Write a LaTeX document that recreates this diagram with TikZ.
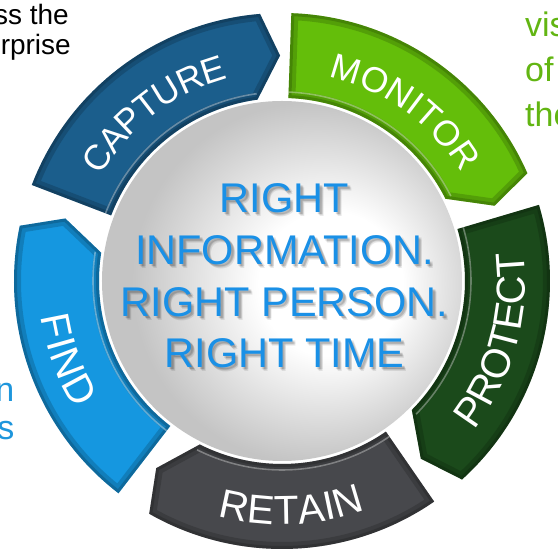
\documentclass[tikz,border=0pt]{standalone}
\usepackage{fontspec}
\setmainfont{Liberation Sans}
\pgfdeclareradialshading{discshade}{\pgfpoint{8.5bp}{-0.5bp}}{color(0bp)=(white); color(10bp)=(white); color(25bp)=(black!23); color(50bp)=(black!23)}
\definecolor{capC}{HTML}{1B5E8C}
\definecolor{monC}{HTML}{64BE0A}
\definecolor{proC}{HTML}{1B4A1B}
\definecolor{retC}{HTML}{47484C}
\definecolor{finC}{HTML}{1597E0}
\definecolor{ctrC}{HTML}{1A90E6}
\definecolor{grnT}{HTML}{62B512}
\definecolor{bluT}{HTML}{1E96DC}
\newcommand{\ringseg}[2]{%
  \pgfmathsetmacro{\segO}{#1-64.3}%
  \pgfmathsetmacro{\segI}{#1-61.3}%
  \pgfmathsetmacro{\segP}{#1-68.5}%
  \def\segshape{(#1:268) arc[start angle=#1, end angle=\segO, radius=268] -- (\segP:225.5) -- (\segI:183) arc[start angle=\segI, end angle=#1, radius=183] -- cycle}%
  \fill[#2] \segshape;
  \begin{scope}
    \clip \segshape;
    \draw[line width=14pt, black, opacity=.16] \segshape;
    \draw[line width=6pt, black, opacity=.16] \segshape;
    \draw[line width=1.6pt, white, opacity=.35] (\segI:189) arc[start angle=\segI, end angle=#1, radius=189];
  \end{scope}
}
\begin{document}
\begin{tikzpicture}[x=1pt, y=1pt,
  lblout/.style={anchor=base, inner sep=0pt, text=white, font=\fontsize{35.5}{35.5}\selectfont},
  lblin/.style={anchor=base, inner sep=0pt, text=white, font=\fontsize{40.5}{40.5}\selectfont},
  ctrtxt/.style={anchor=base, inner sep=0pt, text=ctrC, font=\fontsize{41.5}{41.5}\selectfont},
  ctrshadow/.style={anchor=base, inner sep=0pt, text=black, text opacity=.09, font=\fontsize{41.5}{41.5}\selectfont},
  sidetxt/.style={inner sep=0pt}]
\useasboundingbox (-282,-275) rectangle (276,281);
\clip (-282,-275) rectangle (276,281);
% centre disc
\shade[shading=discshade] (0,0) circle (180);
% ring segments
\ringseg{159}{capC}
\ringseg{88}{monC}
\ringseg{16.5}{proC}
\ringseg{-55.4}{retC}
\ringseg{232.4}{finC}
% segment labels
\foreach \ch/\a [count=\k] in {C/146.4, A/139.9, P/133.6, T/127.6, U/121.4, R/114.6, E/108.1}
  \node[lblout, rotate=\a-90] (cap\k) at (\a:209.5) {\ch};
\foreach \ch/\a [count=\k] in {M/73.1, O/65.2, N/57.9, I/53.0, T/48.6, O/41.8, R/34.5}
  \node[lblout, rotate=\a-90] (mon\k) at (\a:209.5) {\ch};
\foreach \ch/\a [count=\k] in {P/-34.6, R/-28.1, O/-21.2, T/-14.7, E/-8.8, C/-2.3, T/3.9}
  \node[lblin, rotate=\a+90] (pro\k) at (\a:243.5) {\ch};
\foreach \ch/\a [count=\k] in {R/-101.8, E/-95.1, T/-88.9, A/-82.8, I/-78.2, N/-73.4}
  \node[lblin, rotate=\a+90] (ret\k) at (\a:243.5) {\ch};
\foreach \ch/\a [count=\k] in {F/191.4, I/195.9, N/201.0, D/208.4}
  \node[lblin, rotate=\a+90] (fin\k) at (\a:243.5) {\ch};
% centre text with soft shadow
\foreach \t/\yy [count=\k] in {RIGHT/68, INFORMATION./16, RIGHT PERSON./-36, RIGHT TIME/-87}{
  \node[ctrshadow] (sha\k) at (4,\yy-1.5) {\t};
  \node[ctrshadow] (shb\k) at (5,\yy-2.5) {\t};
  \node[ctrshadow] (shc\k) at (6,\yy-3.5) {\t};
  \node[ctrshadow] (shd\k) at (5.5,\yy-2) {\t};
  \node[ctrtxt] (ctr\k) at (2.5,\yy) {\t};
}
% cut-off side texts
\node[sidetxt, anchor=base east, font=\fontsize{28}{28}\selectfont] (tl1) at (-213,256) {ss the};
\node[sidetxt, anchor=base east, font=\fontsize{28}{28}\selectfont] (tl2) at (-211,226) {rprise};
\node[sidetxt, anchor=base west, text=grnT, font=\fontsize{34}{34}\selectfont] (tr1) at (243,244) {vis};
\node[sidetxt, anchor=base west, text=grnT, font=\fontsize{34}{34}\selectfont] (tr2) at (243,199) {of};
\node[sidetxt, anchor=base west, text=grnT, font=\fontsize{34}{34}\selectfont] (tr3) at (243,154) {the};
\node[sidetxt, anchor=base east, text=bluT, font=\fontsize{34}{34}\selectfont] (lf1) at (-267.5,-121) {n};
\node[sidetxt, anchor=base east, text=bluT, font=\fontsize{34}{34}\selectfont] (lf2) at (-267.5,-159) {s};
\end{tikzpicture}
\end{document}
